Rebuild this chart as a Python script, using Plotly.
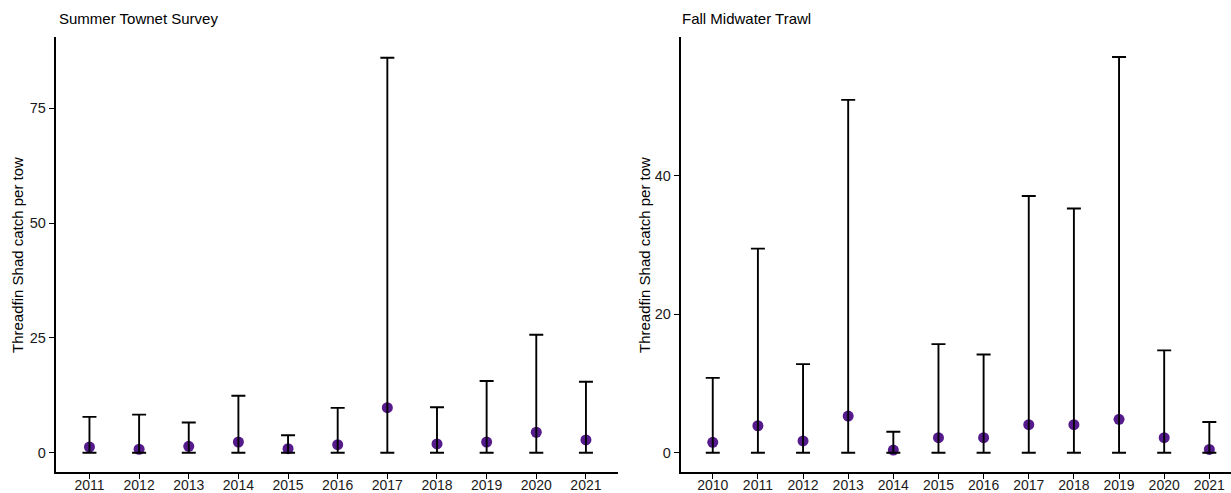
import plotly.graph_objects as go

# Summer Townet Survey
stn_years = [2011, 2012, 2013, 2014, 2015, 2016, 2017, 2018, 2019, 2020, 2021]
stn_mean = [1.24, 0.75, 1.38, 2.33, 0.87, 1.75, 9.8, 1.9, 2.33, 4.45, 2.77]
stn_lower = [0, 0, 0, 0, 0, 0, 0, 0, 0, 0, 0]
stn_upper = [7.8, 8.3, 6.56, 12.4, 3.79, 9.77, 86.0, 9.9, 15.6, 25.7, 15.45]

# Fall Midwater Trawl
fmwt_years = [2010, 2011, 2012, 2013, 2014, 2015, 2016, 2017, 2018, 2019, 2020, 2021]
fmwt_mean = [1.5, 3.9, 1.7, 5.3, 0.39, 2.17, 2.17, 4.06, 4.06, 4.83, 2.17, 0.48]
fmwt_lower = [0, 0, 0, 0, 0, 0, 0, 0, 0, 0, 0, 0]
fmwt_upper = [10.82, 29.5, 12.8, 51.0, 3.04, 15.7, 14.2, 37.1, 35.3, 57.2, 14.8, 4.44]

W, H = 1231, 493
FONT = "Liberation Sans, Arial, sans-serif"
PURPLE = "#551A8B"


def px(xp):
    return xp / W


def py(yp):
    return (H - yp) / H


fig = go.Figure()


def add_panel(years, mean, lower, upper, xa, ya):
    fig.add_trace(go.Scatter(
        x=years, y=mean, mode="markers", xaxis=xa, yaxis=ya,
        marker=dict(color=PURPLE, size=11, line=dict(width=0)),
        showlegend=False, hoverinfo="x+y"))
    fig.add_trace(go.Scatter(
        x=years, y=mean, mode="markers", xaxis=xa, yaxis=ya,
        marker=dict(color="rgba(0,0,0,0)", size=1),
        error_y=dict(type="data", symmetric=False,
                     array=[u - m for u, m in zip(upper, mean)],
                     arrayminus=[m - l for m, l in zip(mean, lower)],
                     color="black", thickness=1.9, width=7),
        showlegend=False, hoverinfo="skip"))


add_panel(stn_years, stn_mean, stn_lower, stn_upper, "x", "y")
add_panel(fmwt_years, fmwt_mean, fmwt_lower, fmwt_upper, "x2", "y2")

ydom = [py(472.3), py(37)]
axis_common = dict(showline=True, linecolor="black", linewidth=1.7,
                   ticks="outside", ticklen=5, tickwidth=1.2, tickcolor="black",
                   showgrid=False, zeroline=False, automargin=False)
ytickfont = dict(family=FONT, size=14.5, color="#1a1a1a")
xaxis_extra = dict(ticklabelstandoff=-6,
                   tickfont=dict(family=FONT, size=14, color="#1a1a1a"))

title_font = dict(family=FONT, size=15, color="black")

fig.update_layout(
    width=W, height=H,
    margin=dict(l=0, r=0, t=0, b=0, pad=0),
    paper_bgcolor="white", plot_bgcolor="white",
    xaxis=dict(domain=[px(55.7), px(617.7)], range=[2010.32, 2021.64],
               tickvals=stn_years, ticktext=[str(y) for y in stn_years],
               anchor="y", **axis_common, **xaxis_extra),
    yaxis=dict(domain=ydom, range=[-4.27, 90.53], tickvals=[0, 25, 50, 75],
               anchor="x", tickfont=ytickfont, **axis_common),
    xaxis2=dict(domain=[px(680.7), 1.0], range=[2009.29, 2021.48],
                tickvals=fmwt_years, ticktext=[str(y) for y in fmwt_years],
                anchor="y2", **axis_common, **xaxis_extra),
    yaxis2=dict(domain=ydom, range=[-2.83, 60.09], tickvals=[0, 20, 40],
                anchor="x2", tickfont=ytickfont, **axis_common),
    annotations=[
        dict(text="Summer Townet Survey", x=px(57), y=py(18),
             xref="paper", yref="paper", xanchor="left", yanchor="middle",
             showarrow=False, font=title_font),
        dict(text="Fall Midwater Trawl", x=px(680), y=py(18),
             xref="paper", yref="paper", xanchor="left", yanchor="middle",
             showarrow=False, font=title_font),
        dict(text="Threadfin Shad catch per tow", x=px(18), y=py(255),
             xref="paper", yref="paper", xanchor="center", yanchor="middle",
             textangle=-90, showarrow=False, font=title_font),
        dict(text="Threadfin Shad catch per tow", x=px(645), y=py(255),
             xref="paper", yref="paper", xanchor="center", yanchor="middle",
             textangle=-90, showarrow=False, font=title_font),
    ],
)

# remove the default 8px page margin so the figure fills the window exactly
fig.write_html(
    "out.html",
    config={"displayModeBar": False},
    post_script="document.body.style.margin='0';document.body.style.overflow='hidden';",
)
